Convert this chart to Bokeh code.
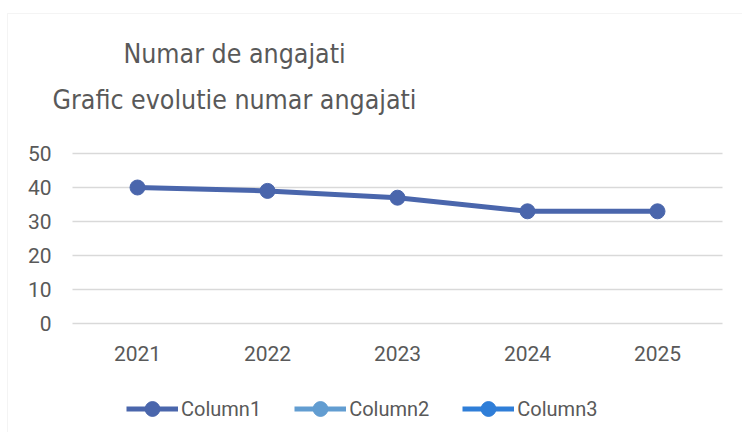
import numpy as np
from bokeh.plotting import figure
from bokeh.models import (Range1d, Legend, LegendItem, Label,
                          BoxAnnotation, ColumnDataSource)
from bokeh.core.properties import value
from bokeh.embed import file_html
from bokeh.resources import INLINE

years = ["2021", "2022", "2023", "2024", "2025"]
column1 = [40, 39, 37, 33, 33]
column2 = [np.nan] * 5   # series listed in the legend, without values
column3 = [np.nan] * 5
series_names = ["Column1", "Column2", "Column3"]
series_colors = ["#4A66AC", "#629DD1", "#2F7ED8"]
y_ticks = [0, 10, 20, 30, 40, 50]
title_lines = ["Numar de angajati", "Grafic evolutie numar angajati"]

TEXT = "#595959"
GRID = "#d9d9d9"
TITLE_FONT = "DejaVu Sans Condensed"
W, H = 742, 432

# category slot centres
xpos = [i + 0.5 for i in range(len(years))]

# the frame covers the whole canvas; plot area is 650x170 px at (72, 153)
SLOT = 130.0            # px per category
PXY = 170.0 / 50        # px per unit of value
X_START = -72 / SLOT
X_END = (W - 72) / SLOT
Y_END = 323 / PXY
Y_START = -(H - 323) / PXY

p = figure(frame_width=W, frame_height=H,
           x_range=Range1d(X_START, X_END), y_range=Range1d(Y_START, Y_END),
           x_axis_type=None, y_axis_type=None,
           output_backend="svg", toolbar_location=None,
           min_border=0)
p.title = None
p.outline_line_color = None

# chart-area border (left and top edges visible)
p.add_layout(BoxAnnotation(left=7, right=W + 20, top=H - 13, bottom=-20,
                           left_units="screen", right_units="screen",
                           top_units="screen", bottom_units="screen",
                           fill_alpha=0, line_color=GRID, line_width=1))

# horizontal gridlines across the category area
p.segment(x0=[0] * len(y_ticks), x1=[len(years)] * len(y_ticks),
          y0=y_ticks, y1=y_ticks, line_color=GRID, line_width=1.5)

# tick labels
p.text(x=[0] * len(y_ticks), y=y_ticks, text=[str(t) for t in y_ticks],
       x_offset=-21, text_align="right", text_baseline="middle",
       text_font=value("Roboto"), text_font_size="21px", text_color=TEXT)
p.text(x=xpos, y=[0] * len(years), text=years,
       y_offset=30, text_align="center", text_baseline="middle",
       text_font=value("Roboto"), text_font_size="21px", text_color=TEXT)

# title
for txt, ypos in zip(title_lines, (H - 64 + 11, H - 108 + 9)):
    p.add_layout(Label(x=234, y=ypos, x_units="screen", y_units="screen", text=txt,
                       text_align="center", text_baseline="alphabetic",
                       text_font=TITLE_FONT, text_font_size="26.5px", text_color=TEXT))

renderers = []
for vals, col in zip((column1, column2, column3), series_colors):
    src = ColumnDataSource(dict(x=xpos, y=np.array(vals, dtype=float)))
    rl = p.line("x", "y", source=src, line_color=col, line_width=5)
    rp = p.scatter("x", "y", source=src, size=15, fill_color=col, line_color=col)
    renderers.append([rl, rp])

legend = Legend(items=[LegendItem(label=n, renderers=r) for n, r in zip(series_names, renderers)],
                orientation="horizontal", location=(126, 5),
                glyph_width=52, glyph_height=37, label_standoff=3, spacing=33,
                padding=0, margin=0, border_line_color=None, background_fill_alpha=0,
                label_text_font="Roboto", label_text_font_size="20px", label_text_color=TEXT)
p.add_layout(legend, "center")

open("out.html", "w").write(file_html(p, INLINE))
